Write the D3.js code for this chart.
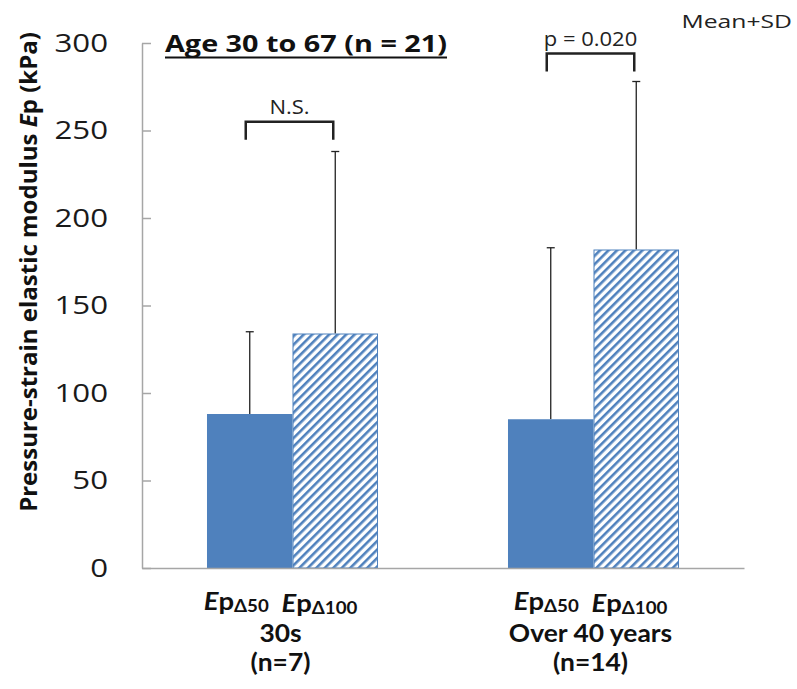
<!DOCTYPE html>
<html><head><meta charset="utf-8">
<script src="https://cdn.jsdelivr.net/npm/d3@7"></script>
<style>body{margin:0;background:#fff;} svg{display:block;}</style>
</head><body><svg id="c" width="797" height="689"></svg>
<script>
// ---- data ----
const groups = ["30s", "Over 40 years"];
const groupN = ["(n=7)", "(n=14)"];
const series = ["Δ50", "Δ100"];
const means = [[88, 134], [85, 182]];
const sds = [[47, 104], [98, 96]];
const yTicks = [0, 50, 100, 150, 200, 250, 300];
const brackets = [{group: 0, label: "N.S.", y: 255}, {group: 1, label: "p = 0.020", y: 294}];
const title = "Age 30 to 67 (n = 21)";
const note = "Mean+SD";

const svg = d3.select("#c");
const font = "'Open Sans', sans-serif";
const labelFont = "Lato, 'Open Sans', sans-serif";
const blue = "#4F81BD";
const axisCol = "#a6a6a6";

const y = d3.scaleLinear().domain([0, 300]).range([568, 43]);
const x0 = d3.scaleBand().domain(d3.range(groups.length)).range([142, 744]);
const x1 = d3.scaleBand().domain(d3.range(series.length)).range([0, x0.bandwidth()]).paddingOuter(0.76);

// helper: horizontally stretched text
function stext(x, yy, sx, anchor) {
  return svg.append("g").attr("transform", `translate(${x},${yy}) scale(${sx},1)`)
    .append("text").attr("text-anchor", anchor || "start").attr("font-family", font);
}

// pattern
const defs = svg.append("defs");
const pat = defs.append("pattern").attr("id", "hatch").attr("patternUnits", "userSpaceOnUse")
  .attr("width", 6).attr("height", 6).attr("patternTransform", "rotate(45)");
pat.append("rect").attr("width", 6).attr("height", 6).attr("fill", "#fff");
pat.append("line").attr("x1", 0).attr("y1", 0).attr("x2", 0).attr("y2", 6)
  .attr("stroke", blue).attr("stroke-width", 5.2);

const data = [];
means.forEach((row, g) => row.forEach((m, s) => data.push({g, s, m, sd: sds[g][s]})));

// error bars
const eb = svg.append("g");
data.forEach(d => {
  const cx = x0(d.g) + x1(d.s) + x1.bandwidth() / 2;
  eb.append("line").attr("x1", cx).attr("x2", cx).attr("y1", y(d.m)).attr("y2", y(d.m + d.sd))
    .attr("stroke", "#222").attr("stroke-width", 1.3);
  eb.append("line").attr("x1", cx - 4).attr("x2", cx + 4).attr("y1", y(d.m + d.sd)).attr("y2", y(d.m + d.sd))
    .attr("stroke", "#222").attr("stroke-width", 1.3);
});

svg.append("g").selectAll("rect").data(data).join("rect")
  .attr("x", d => x0(d.g) + x1(d.s) + (d.s === 1 ? 0.5 : 0))
  .attr("y", d => y(d.m) + (d.s === 1 ? 0.5 : 0))
  .attr("width", d => x1.bandwidth() - (d.s === 1 ? 1 : 0))
  .attr("height", d => y(0) - y(d.m) - (d.s === 1 ? 0.5 : 0))
  .attr("fill", d => d.s === 0 ? blue : "url(#hatch)")
  .attr("stroke", d => d.s === 0 ? "none" : blue)
  .attr("stroke-width", 1);

// axes
const tickSx = 1.25;
const yAxis = d3.axisLeft(y).tickValues(yTicks).tickSizeInner(-9).tickSizeOuter(0).tickPadding(34);
const ya = svg.append("g").attr("transform", "translate(142,0)").call(yAxis);
ya.select(".domain").attr("stroke", axisCol).attr("stroke-width", 1.5);
ya.selectAll(".tick line").attr("stroke", axisCol).attr("stroke-width", 1.5);
ya.selectAll(".tick text").attr("font-family", font).attr("font-size", 25).attr("fill", "#1a1a1a")
  .attr("x", -34 / tickSx).attr("transform", `scale(${tickSx},1)`);

const xAxis = d3.axisBottom(x0).tickValues([]).tickSizeOuter(0);
const xa = svg.append("g").attr("transform", "translate(0,568)").call(xAxis);
xa.select(".domain").attr("stroke", axisCol).attr("stroke-width", 1.5);

// x labels (one multi-line text per category)
const labelShift = [-12, -3];
const lSx = 1.1;
groups.forEach((g, i) => {
  const cx = x0(i) + x0.bandwidth() / 2 + labelShift[i];
  const t = svg.append("g").attr("transform", `translate(${cx},0) scale(${lSx},1)`)
    .append("text").attr("text-anchor", "middle").attr("font-family", labelFont)
    .attr("font-weight", "bold").attr("font-size", 24).attr("fill", "#111");
  series.forEach((s, j) => {
    const e = t.append("tspan").attr("font-style", "italic").attr("font-size", 25);
    if (j === 0) e.attr("x", 0).attr("y", 610);
    e.text((j ? "\u2002" : "") + "E");
    t.append("tspan").attr("font-size", 25).text("p");
    t.append("tspan").attr("font-size", 17).attr("dy", 2).text(s);
    t.append("tspan").attr("dy", -2).attr("font-size", 17).text("");
  });
  t.append("tspan").attr("x", 0).attr("y", 642).text(g);
  t.append("tspan").attr("x", 0).attr("y", 671).text(groupN[i]);
});

// y label
const yl = svg.append("text").attr("transform", "translate(37,272) rotate(-90)").attr("text-anchor", "middle")
  .attr("font-family", font).attr("font-weight", "bold").attr("font-size", 24).attr("fill", "#111");
yl.append("tspan").text("Pressure-strain elastic modulus ");
yl.append("tspan").attr("font-style", "italic").text("E");
yl.append("tspan").text("p (kPa)");

// brackets
brackets.forEach(b => {
  const xl = x0(b.group) + x1(0) + x1.bandwidth() / 2 - 4;
  const xr = x0(b.group) + x1(1) + x1.bandwidth() / 2 - 2;
  const yt = y(b.y);
  svg.append("path").attr("d", `M${xl},${yt + 18}V${yt}H${xr}V${yt + 18}`)
    .attr("fill", "none").attr("stroke", "#222").attr("stroke-width", 2.5);
  stext((xl + xr) / 2, yt - 8, 1.1, "middle").attr("font-size", 20).attr("fill", "#222").text(b.label);
});

// title
const tSx = 1.2;
const tt = stext(165, 52, tSx, "start").attr("font-weight", "bold").attr("font-size", 24).attr("fill", "#111").text(title);
const tw = tt.node().getComputedTextLength() * tSx;
svg.append("line").attr("x1", 165).attr("x2", 165 + tw).attr("y1", 57.5).attr("y2", 57.5)
  .attr("stroke", "#111").attr("stroke-width", 2);

stext(792, 28, 1.3, "end").attr("font-size", 19).attr("fill", "#222").text(note);
</script></body></html>
